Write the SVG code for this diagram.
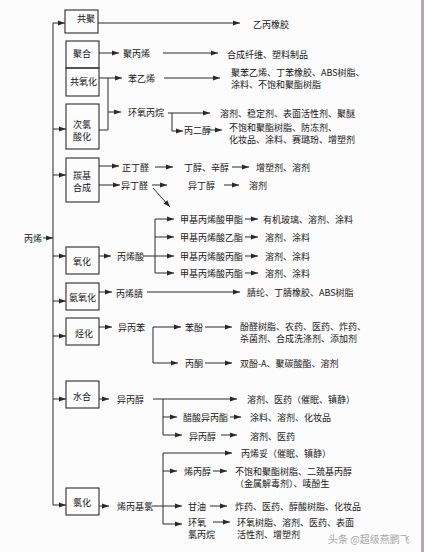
<svg xmlns="http://www.w3.org/2000/svg" width="424" height="552" viewBox="0 0 424 552">
<style>
text{font-family:"Noto Sans CJK SC","Noto Sans CJK JP",sans-serif;font-size:9px;fill:#161616;dominant-baseline:central}
.c{text-anchor:middle}
.box{fill:none;stroke:#2a2a2a;stroke-width:1.1}
.ln{fill:none;stroke:#2a2a2a;stroke-width:1}
.ar{fill:none;stroke:#2a2a2a;stroke-width:1;marker-end:url(#ah)}
.wm{font-size:10px;fill:#a8a8a8}
</style>
<defs>
<marker id="ah" markerUnits="userSpaceOnUse" markerWidth="7" markerHeight="6" refX="7" refY="3" orient="auto">
<path d="M0,0.5 L7,3 L0,5.5 z" fill="#2a2a2a"/>
</marker>
</defs>
<rect width="424" height="552" fill="#fcfcfc"/>
<rect x="421" y="0" width="3" height="552" fill="#b3abaf"/>

<g id="propylene"><text x="24" y="238">丙烯</text></g>

<g id="n-gongju"><rect class="box" x="65" y="10" width="33" height="23"/><text class="c" x="86" y="18">共聚</text></g>
<g id="n-juhe"><rect class="box" x="66" y="41" width="33" height="27"/><text class="c" x="82" y="53">聚合</text></g>
<g id="n-gongyanghua"><rect class="box" x="66" y="68" width="33" height="28"/><text class="c" x="83.5" y="81">共氧化</text></g>
<g id="n-cilvsuanhua"><rect class="box" x="66" y="104" width="33" height="45"/><text class="c" x="82" y="124">次氯<tspan x="82" dy="12">酸化</tspan></text></g>
<g id="n-tangji"><rect class="box" x="66" y="158" width="33" height="44"/><text class="c" x="82" y="175">羰基<tspan x="82" dy="12">合成</tspan></text></g>
<g id="n-yanghua"><rect class="box" x="66" y="247" width="33" height="27"/><text class="c" x="82" y="261">氧化</text></g>
<g id="n-anyanghua"><rect class="box" x="66" y="283" width="33" height="27"/><text class="c" x="82.5" y="297">氨氧化</text></g>
<g id="n-tinghua"><rect class="box" x="66" y="318" width="33" height="27"/><text class="c" x="84" y="333">烃化</text></g>
<g id="n-shuihe"><rect class="box" x="66" y="381" width="33" height="27"/><text class="c" x="82" y="396">水合</text></g>
<g id="n-lvhua"><rect class="box" x="66" y="488" width="33" height="27"/><text class="c" x="82" y="502">氯化</text></g>

<g id="labels">
<text x="253" y="24">乙丙橡胶</text>
<text x="123" y="53">聚丙烯</text>
<text x="227" y="54">合成纤维、塑料制品</text>
<text x="128" y="78">苯乙烯</text>
<text x="231" y="72">聚苯乙烯、丁苯橡胶、ABS树脂、</text>
<text x="231" y="84">涂料、不饱和聚酯树脂</text>
<text x="128" y="112">环氧丙烷</text>
<text x="220" y="113">溶剂、稳定剂、表面活性剂、聚醚</text>
<text x="184" y="130">丙二醇</text>
<text x="229" y="127">不饱和聚酯树脂、防冻剂、</text>
<text x="229" y="139">化妆品、涂料、赛璐玢、增塑剂</text>
<text x="122" y="167">正丁醛</text>
<text x="184" y="167">丁醇、辛醇</text>
<text x="256" y="167">增塑剂、溶剂</text>
<text x="121" y="185">异丁醛</text>
<text x="188" y="185">异丁醇</text>
<text x="249" y="185">溶剂</text>
<text x="117" y="256">丙烯酸</text>
<text x="180" y="219">甲基丙烯酸甲酯</text>
<text x="263" y="219">有机玻璃、溶剂、涂料</text>
<text x="180" y="237">甲基丙烯酸乙酯</text>
<text x="265" y="237">溶剂、涂料</text>
<text x="180" y="256">甲基丙烯酸丙酯</text>
<text x="265" y="256">溶剂、涂料</text>
<text x="180" y="273">甲基丙烯酸丙酯</text>
<text x="265" y="273">溶剂、涂料</text>
<text x="116" y="293">丙烯腈</text>
<text x="247" y="292">腈纶、丁腈橡胶、ABS树脂</text>
<text x="118" y="327">异丙苯</text>
<text x="185" y="327">苯酚</text>
<text x="240" y="326">酚醛树脂、农药、医药、炸药、</text>
<text x="240" y="338">杀菌剂、合成洗涤剂、添加剂</text>
<text x="185" y="363">丙酮</text>
<text x="240" y="363">双酚-A、聚碳酸酯、溶剂</text>
<text x="117" y="399">异丙醇</text>
<text x="247" y="399">溶剂、医药（催眠、镇静）</text>
<text x="183" y="417">醋酸异丙酯</text>
<text x="250" y="417">涂料、溶剂、化妆品</text>
<text x="189" y="436">异丙醇</text>
<text x="250" y="436">溶剂、医药</text>
<text x="117" y="506">烯丙基氯</text>
<text x="241" y="453">丙烯妥（催眠、镇静）</text>
<text x="184" y="471">烯丙醇</text>
<text x="235" y="471">不饱和聚酯树脂、二巯基丙醇</text>
<text x="235" y="483">（金属解毒剂）、唛酚生</text>
<text x="188" y="506">甘油</text>
<text x="235" y="506">炸药、医药、醇酸树脂、化妆品</text>
<text x="188" y="522">环氧</text>
<text x="188" y="534">氯丙烷</text>
<text x="237" y="522">环氧树脂、溶剂、医药、表面</text>
<text x="237" y="534">活性剂、增塑剂</text>
</g>

<g id="connectors">
<line class="ar" x1="43" y1="238" x2="53" y2="238"/>
<line class="ln" x1="53" y1="23" x2="53" y2="505"/>
<line class="ar" x1="53" y1="23" x2="65" y2="23"/>
<line class="ar" x1="53" y1="129" x2="66" y2="129"/>
<line class="ar" x1="53" y1="175" x2="66" y2="175"/>
<line class="ar" x1="53" y1="256" x2="66" y2="256"/>
<line class="ar" x1="53" y1="301" x2="66" y2="301"/>
<line class="ar" x1="53" y1="336" x2="66" y2="336"/>
<line class="ar" x1="53" y1="399" x2="66" y2="399"/>
<line class="ar" x1="53" y1="505" x2="66" y2="505"/>

<line class="ar" x1="98" y1="23" x2="240" y2="23"/>
<line class="ar" x1="99" y1="53" x2="119" y2="53"/>
<line class="ar" x1="163" y1="53" x2="218" y2="53"/>
<line class="ar" x1="99" y1="78" x2="122" y2="78"/>
<line class="ar" x1="164" y1="78" x2="220" y2="78"/>
<path class="ln" d="M99,130 H108 V78"/>
<line class="ar" x1="108" y1="112" x2="121" y2="112"/>
<line class="ar" x1="168" y1="113" x2="210" y2="113"/>
<path class="ar" d="M172,113 V131 H183"/>
<line class="ar" x1="206" y1="130" x2="222" y2="130"/>

<line class="ar" x1="99" y1="166" x2="119" y2="166"/>
<line class="ar" x1="155" y1="167" x2="173" y2="167"/>
<line class="ar" x1="232" y1="167" x2="249" y2="167"/>
<line class="ar" x1="99" y1="185" x2="120" y2="185"/>
<line class="ar" x1="152" y1="185" x2="167" y2="185"/>
<line class="ar" x1="224" y1="185" x2="239" y2="185"/>
<line class="ar" x1="153" y1="188" x2="170" y2="207"/>

<line class="ar" x1="99" y1="256" x2="111" y2="256"/>
<line class="ln" x1="143" y1="256" x2="155" y2="256"/>
<line class="ln" x1="155" y1="219" x2="155" y2="273"/>
<line class="ar" x1="155" y1="219" x2="174" y2="219"/>
<line class="ar" x1="155" y1="237" x2="174" y2="237"/>
<line class="ar" x1="155" y1="256" x2="174" y2="256"/>
<line class="ar" x1="155" y1="273" x2="174" y2="273"/>
<line class="ar" x1="245" y1="219" x2="258" y2="219"/>
<line class="ar" x1="245" y1="237" x2="258" y2="237"/>
<line class="ar" x1="245" y1="256" x2="258" y2="256"/>
<line class="ar" x1="245" y1="273" x2="258" y2="273"/>

<line class="ar" x1="99" y1="292" x2="112" y2="292"/>
<line class="ar" x1="147" y1="292" x2="240" y2="292"/>

<line class="ar" x1="99" y1="327" x2="112" y2="327"/>
<path class="ar" d="M153,363 V327 H181"/>
<line class="ar" x1="205" y1="327" x2="232" y2="327"/>
<line class="ar" x1="153" y1="363" x2="178" y2="363"/>
<line class="ar" x1="205" y1="363" x2="232" y2="363"/>

<line class="ar" x1="99" y1="399" x2="109" y2="399"/>
<line class="ar" x1="153" y1="399" x2="237" y2="399"/>
<line class="ln" x1="163" y1="399" x2="163" y2="435"/>
<line class="ar" x1="163" y1="417" x2="177" y2="417"/>
<line class="ar" x1="163" y1="435" x2="182" y2="435"/>
<line class="ar" x1="230" y1="417" x2="241" y2="417"/>
<line class="ar" x1="221" y1="435" x2="237" y2="435"/>

<line class="ar" x1="99" y1="506" x2="109" y2="506"/>
<line class="ln" x1="152" y1="506" x2="163" y2="506"/>
<line class="ln" x1="163" y1="453" x2="163" y2="524"/>
<line class="ar" x1="163" y1="453" x2="232" y2="453"/>
<line class="ar" x1="163" y1="471" x2="177" y2="471"/>
<line class="ar" x1="213" y1="471" x2="227" y2="471"/>
<line class="ar" x1="163" y1="506" x2="182" y2="506"/>
<line class="ar" x1="210" y1="506" x2="227" y2="506"/>
<line class="ar" x1="163" y1="524" x2="182" y2="524"/>
<line class="ar" x1="213" y1="522" x2="230" y2="522"/>
</g>

<text class="wm" x="328" y="538">头条 @超级燕鹏飞</text>
</svg>
